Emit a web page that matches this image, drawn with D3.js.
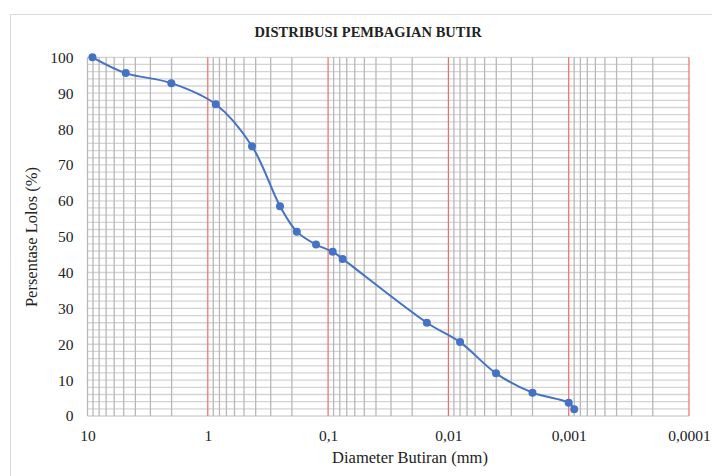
<!DOCTYPE html>
<html>
<head>
<meta charset="utf-8">
<script src="https://cdn.jsdelivr.net/npm/d3@7"></script>
<style>
  body { margin: 0; background: #fff; }
  svg text { font-family: "Liberation Serif", "DejaVu Serif", "Times New Roman", Times, serif !important; fill: #222; }
</style>
</head>
<body>
<div id="chart"></div>
<script>
// values
var diameters = [9.1, 4.81, 2.01, 0.859, 0.429, 0.251, 0.182, 0.126, 0.0916, 0.0757, 0.0151, 0.0080, 0.00402, 0.0020, 0.0010, 0.00090];
var percentLolos = [100, 95.6, 92.8, 86.9, 75.2, 58.5, 51.4, 47.8, 45.8, 43.8, 26.0, 20.6, 11.9, 6.5, 3.7, 1.9];
var xTicks = [10, 1, 0.1, 0.01, 0.001, 0.0001];
var xTickLabels = ["10", "1", "0,1", "0,01", "0,001", "0,0001"];
var yTicks = [0, 10, 20, 30, 40, 50, 60, 70, 80, 90, 100];

var points = diameters.map((d, i) => ({d: d, p: percentLolos[i]}));

var serif = '"Liberation Serif", "DejaVu Serif", serif';
var width = 712, height = 476;
var margin = {top: 57.3, right: 23, bottom: 60, left: 87.5};
var chartWidth = width - margin.left - margin.right;
var chartHeight = 416 - margin.top;

var svg = d3.select('#chart').append('svg')
    .attr('width', width)
    .attr('height', height);

// chart frame
svg.append('rect')
    .attr('x', 10.5).attr('y', 14.5)
    .attr('width', 720).attr('height', 480)
    .attr('fill', 'none').attr('stroke', '#d9d9d9');

svg.append('text')
    .attr('x', 368).attr('y', 37)
    .attr('text-anchor', 'middle')
    .attr('font-family', serif)
    .style('font-size', '14.5px').style('font-weight', 'bold')
    .text('DISTRIBUSI PEMBAGIAN BUTIR');

var g = svg.append('g')
    .attr('transform', `translate(${margin.left},${margin.top})`);

// reversed log scale: 10 on the left, 0.0001 on the right
var xScale = d3.scaleLog().domain([10, 0.0001]).range([0, chartWidth]);
var yScale = d3.scaleLinear().domain([0, 100]).range([chartHeight, 0]);

// horizontal grid every 2%
var hLines = d3.range(0, 101, 2);
g.selectAll('.hgrid').data(hLines).enter().append('line')
    .attr('class', 'hgrid')
    .attr('x1', 0).attr('x2', chartWidth)
    .attr('y1', d => yScale(d)).attr('y2', d => yScale(d))
    .attr('stroke', '#d4d4d4').attr('stroke-width', 1.3);

// minor vertical grid 2..9 within each decade
var minor = [];
[1, 0.1, 0.01, 0.001, 0.0001].forEach(dec => {
  for (var k = 2; k <= 9; k++) minor.push(dec * k);
});
g.selectAll('.vgrid').data(minor).enter().append('line')
    .attr('class', 'vgrid')
    .attr('y1', 0).attr('y2', chartHeight)
    .attr('x1', d => xScale(d)).attr('x2', d => xScale(d))
    .attr('stroke', '#b8b8b8').attr('stroke-width', 1.3);

// left edge
g.append('line')
    .attr('x1', xScale(10)).attr('x2', xScale(10))
    .attr('y1', 0).attr('y2', chartHeight)
    .attr('stroke', '#b8b8b8').attr('stroke-width', 1.3);

// red decade lines
g.selectAll('.decade').data(xTicks.slice(1)).enter().append('line')
    .attr('class', 'decade')
    .attr('y1', 0).attr('y2', chartHeight)
    .attr('x1', d => xScale(d)).attr('x2', d => xScale(d))
    .attr('stroke', '#f26b6b').attr('stroke-width', 1.2);

// axes
var xAxis = d3.axisBottom(xScale)
    .tickValues(xTicks)
    .tickFormat((d, i) => xTickLabels[i])
    .tickSize(0).tickPadding(14);
var yAxis = d3.axisLeft(yScale)
    .tickValues(yTicks)
    .tickSize(0).tickPadding(14);

g.append('g')
    .attr('transform', `translate(0,${chartHeight})`)
    .attr('font-family', serif)
    .call(xAxis)
    .call(a => a.select('.domain').remove())
    .selectAll('text')
    .style('font-size', '15.5px')
    .attr('fill', '#222');

g.append('g')
    .attr('font-family', serif)
    .call(yAxis)
    .call(a => a.select('.domain').remove())
    .selectAll('text')
    .style('font-size', '15.5px')
    .attr('fill', '#222');

// axis titles
svg.append('text')
    .attr('x', 410).attr('y', 463)
    .attr('text-anchor', 'middle')
    .attr('font-family', serif)
    .style('font-size', '16.5px')
    .text('Diameter Butiran (mm)');

svg.append('text')
    .attr('transform', 'translate(37,237) rotate(-90)')
    .attr('text-anchor', 'middle')
    .attr('font-family', serif)
    .style('font-size', '16.5px')
    .text('Persentase Lolos (%)');

// smoothed line + markers
var line = d3.line()
    .x(d => xScale(d.d))
    .y(d => yScale(d.p))
    .curve(d3.curveCatmullRom.alpha(0.5));

g.append('path')
    .datum(points)
    .attr('d', line)
    .attr('fill', 'none')
    .attr('stroke', '#4472c4')
    .attr('stroke-width', 2);

g.selectAll('.dot').data(points).enter().append('circle')
    .attr('class', 'dot')
    .attr('cx', d => xScale(d.d))
    .attr('cy', d => yScale(d.p))
    .attr('r', 4)
    .attr('fill', '#4472c4');
</script>
</body>
</html>
